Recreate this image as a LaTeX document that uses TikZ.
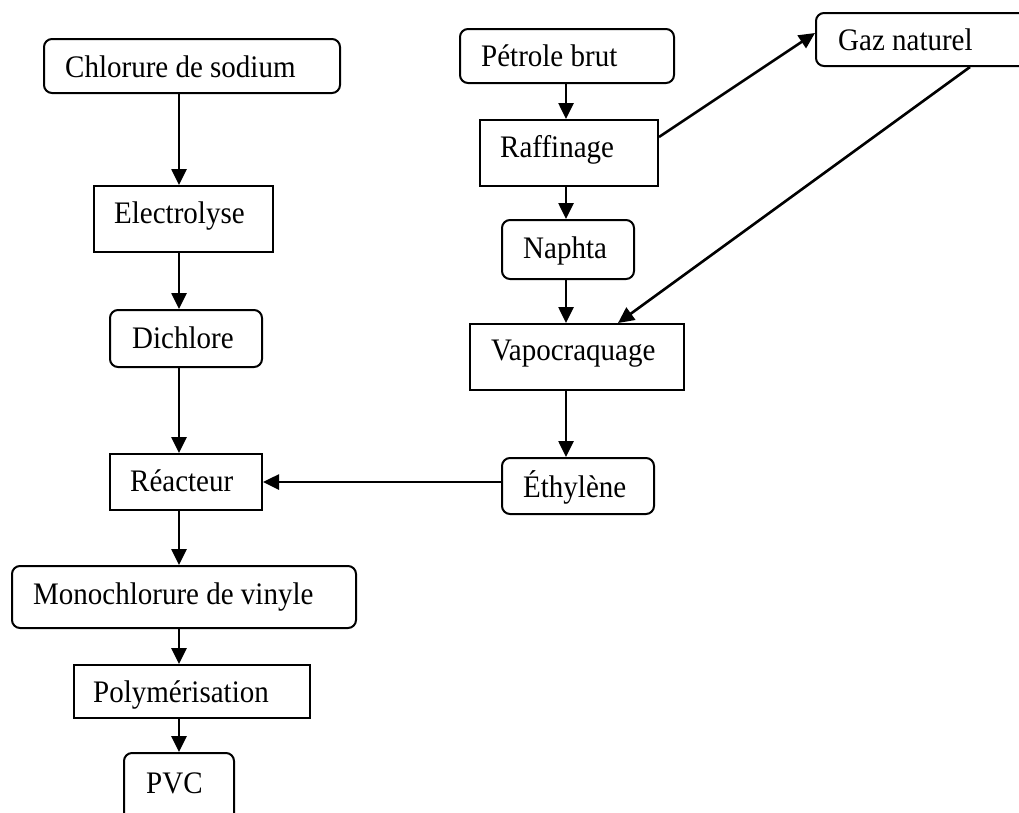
\documentclass[tikz,border=0pt]{standalone}
\usepackage{fontspec}
\usepackage{graphicx}
\setmainfont{Liberation Serif}
\usetikzlibrary{arrows.meta,calc}
\newcommand{\tall}[1]{\scalebox{1}[1.08]{#1}}
\tikzset{
  box/.style={draw, line width=2pt, anchor=north west, inner sep=0pt},
  rbox/.style={box, rounded corners=8pt},
  lbl/.style={anchor=base west, inner sep=0pt, font=\fontsize{29}{34}\selectfont},
  arr/.style={line width=2.6pt, -{Triangle[length=16pt,width=15pt]}},
}
\begin{document}
\begin{tikzpicture}[x=1pt,y=-1pt]
\useasboundingbox (0,0) rectangle (1019,812);
\clip (0,0) rectangle (1019,812);
% left column
\node[rbox, minimum width=296pt, minimum height=54pt] (cs) at (43,38) {};
\node[lbl] (cst) at (65,77) {\tall{Chlorure de sodium}};
\node[box, minimum width=179pt, minimum height=66pt] (el) at (93,185) {};
\node[lbl] (elt) at (114,223) {\tall{Electrolyse}};
\node[rbox, minimum width=152pt, minimum height=57pt] (di) at (109,309) {};
\node[lbl] (dit) at (132,348) {\tall{Dichlore}};
\node[box, minimum width=152pt, minimum height=56pt] (re) at (109,453) {};
\node[lbl] (ret) at (130,491) {\tall{Réacteur}};
\node[rbox, minimum width=344pt, minimum height=62pt] (mo) at (11,565) {};
\node[lbl] (mot) at (33,604) {\tall{Monochlorure de vinyle}};
\node[box, minimum width=236pt, minimum height=53pt] (po) at (73,664) {};
\node[lbl] (pot) at (93,702) {\tall{Polymérisation}};
\node[rbox, minimum width=110pt, minimum height=80pt] (pv) at (123,752) {};
\node[lbl] (pvt) at (146,793) {\tall{PVC}};
% right column
\node[rbox, minimum width=214pt, minimum height=54pt] (pe) at (459,28) {};
\node[lbl] (pet) at (481,66) {\tall{Pétrole brut}};
\node[box, minimum width=178pt, minimum height=66pt] (ra) at (479,119) {};
\node[lbl] (rat) at (500,157) {\tall{Raffinage}};
\node[rbox, minimum width=132pt, minimum height=59pt] (na) at (501,219) {};
\node[lbl] (nat) at (523,258) {\tall{Naphta}};
\node[box, minimum width=214pt, minimum height=66pt] (va) at (469,323) {};
\node[lbl] (vat) at (491,360) {\tall{Vapocraquage}};
\node[rbox, minimum width=152pt, minimum height=56pt] (et) at (501,457) {};
\node[lbl] (ett) at (523,497) {\tall{Éthylène}};
\node[rbox, minimum width=260pt, minimum height=53pt] (ga) at (815,12) {};
\node[lbl] (gat) at (838,50) {\tall{Gaz naturel}};
% guide coordinates
\coordinate (cL) at (179,0);
\coordinate (cR) at (566,0);
\coordinate (rE) at (0,482);
% connectors
\draw[arr] (cs.south -| cL) -- (el.north -| cL);
\draw[arr] (el.south -| cL) -- (di.north -| cL);
\draw[arr] (di.south -| cL) -- (re.north -| cL);
\draw[arr] (re.south -| cL) -- (mo.north -| cL);
\draw[arr] (mo.south -| cL) -- (po.north -| cL);
\draw[arr] (po.south -| cL) -- (pv.north -| cL);
\draw[arr] (pe.south -| cR) -- (ra.north -| cR);
\draw[arr] (ra.south -| cR) -- (na.north -| cR);
\draw[arr] (na.south -| cR) -- (va.north -| cR);
\draw[arr] (va.south -| cR) -- (et.north -| cR);
\draw[arr] (et.west |- rE) -- (re.east |- rE);
\draw[arr] ($(ra.north east)+(0,18)$) -- ($(ga.north west)+(0,21)$);
\draw[arr] ($(ga.south west)+(155,0)$) -- ($(va.north west)+(149,0)$);
\end{tikzpicture}
\end{document}
